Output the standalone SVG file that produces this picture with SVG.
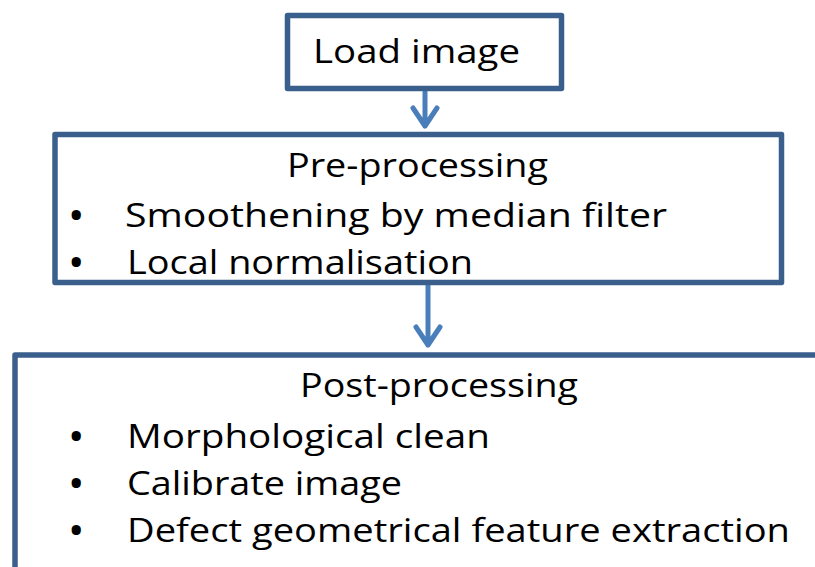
<svg xmlns="http://www.w3.org/2000/svg" width="815" height="567" viewBox="0 0 815 567">
<style>
.box{fill:#fff;stroke:#3b5f8c;stroke-width:5.5;stroke-linejoin:round}
.t{font-family:"Open Sans","Liberation Sans",sans-serif;font-size:33px;fill:#000}
.b{font-family:"Open Sans","Liberation Sans",sans-serif;font-size:33px;font-weight:bold;fill:#000}
.c{stroke:#4a7ebb;stroke-width:5;fill:none;stroke-linecap:round;stroke-linejoin:round}
</style>
<rect width="815" height="567" fill="#fff"/>
<g id="connectors">
<path class="c" d="M425,92 V126 M413,108 L425,126 L437,108"/>
<path class="c" d="M428,286 V345 M416,327 L428,345 L440,327"/>
</g>
<g id="load">
<rect class="box" x="287.5" y="15.5" width="274" height="73"/>
<text class="t" x="313" y="63" textLength="207" lengthAdjust="spacingAndGlyphs">Load image</text>
</g>
<g id="pre">
<rect class="box" x="55" y="134.5" width="726.5" height="148"/>
<text class="t" x="287" y="177" textLength="261" lengthAdjust="spacingAndGlyphs">Pre-processing</text>
<text class="b" x="70" y="227">•</text>
<text class="t" x="125" y="227" textLength="542" lengthAdjust="spacingAndGlyphs">Smoothening by  median filter</text>
<text class="b" x="70" y="274">•</text>
<text class="t" x="127" y="274" textLength="346" lengthAdjust="spacingAndGlyphs">Local normalisation</text>
</g>
<g id="post">
<rect class="box" x="15" y="355" width="830" height="240"/>
<text class="t" x="300" y="397" textLength="278" lengthAdjust="spacingAndGlyphs">Post-processing</text>
<text class="b" x="70" y="448">•</text>
<text class="t" x="127" y="448" textLength="363" lengthAdjust="spacingAndGlyphs">Morphological clean</text>
<text class="b" x="70" y="495">•</text>
<text class="t" x="127" y="495" textLength="275" lengthAdjust="spacingAndGlyphs">Calibrate image</text>
<text class="b" x="70" y="542">•</text>
<text class="t" x="127" y="542" textLength="663" lengthAdjust="spacingAndGlyphs">Defect geometrical feature extraction</text>
</g>
</svg>
